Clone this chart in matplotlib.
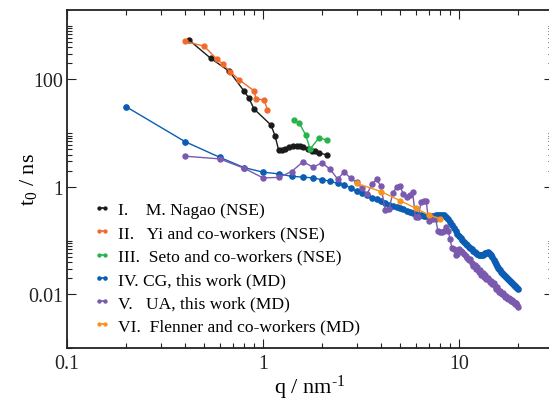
import matplotlib
matplotlib.use('Agg')
import matplotlib.pyplot as plt
from matplotlib.ticker import FixedLocator, NullFormatter, LogLocator

plt.rcParams['font.family'] = ['Liberation Serif', 'DejaVu Serif']
plt.rcParams['mathtext.fontset'] = 'custom'
plt.rcParams['mathtext.rm'] = 'Liberation Serif'
plt.rcParams['mathtext.it'] = 'Liberation Serif:italic'

# ---- data ----
q_nagao = [0.419, 0.541, 0.673, 0.80, 0.848, 0.90, 1.098, 1.151, 1.20, 1.246, 1.295,
           1.357, 1.428, 1.486, 1.545, 1.606, 1.69, 1.773, 1.84, 1.937, 2.11]
t_nagao = [543, 248, 142, 61, 44.7, 28.2, 14.2, 9.0, 4.94, 4.94, 5.16,
           5.48, 5.72, 5.87, 5.79, 5.48, 5.09, 4.73, 4.61, 4.29, 3.94]

q_yi = [0.40, 0.502, 0.58, 0.623, 0.679, 0.757, 0.903, 0.921, 1.015, 1.052]
t_yi = [514, 415, 241, 194, 140, 98, 61, 43.4, 41.5, 27.4]

q_seto = [1.44, 1.53, 1.65, 1.74, 1.93, 2.11]
t_seto = [17.9, 15.5, 9.3, 5.09, 8.16, 7.49]

q_cg = [0.2, 0.4, 0.6, 0.8, 1.0, 1.2, 1.4, 1.6, 1.8, 2.0,
        2.2, 2.4, 2.6, 2.8, 3.0, 3.2, 3.4, 3.6, 3.8, 4.0,
        4.2, 4.4, 4.6, 4.8, 5.0, 5.2, 5.4, 5.6, 5.8, 6.0,
        6.2, 6.4, 6.6, 6.8, 7.0, 7.2, 7.4, 7.6, 7.8, 8.0,
        8.2, 8.4, 8.6, 8.8, 9.0, 9.2, 9.4, 9.6, 9.8, 10.0,
        10.2, 10.4, 10.6, 10.8, 11.0, 11.2, 11.4, 11.6, 11.8, 12.0,
        12.2, 12.4, 12.6, 12.8, 13.0, 13.2, 13.4, 13.6, 13.8, 14.0,
        14.2, 14.4, 14.6, 14.8, 15.0, 15.2, 15.4, 15.6, 15.8, 16.0,
        16.2, 16.4, 16.6, 16.8, 17.0, 17.2, 17.4, 17.6, 17.8, 18.0,
        18.2, 18.4, 18.6, 18.8, 19.0, 19.2, 19.4, 19.6, 19.8, 20.0]
t_cg = [31.2, 6.96, 3.57, 2.29, 1.88, 1.75, 1.57, 1.52, 1.47, 1.36,
        1.28, 1.16, 1.09, 0.97, 0.825, 0.773, 0.70, 0.632, 0.585, 0.549,
        0.493, 0.466, 0.443, 0.425, 0.402, 0.381, 0.362, 0.346, 0.328, 0.315,
        0.304, 0.295, 0.289, 0.285, 0.285, 0.289, 0.292, 0.297, 0.301, 0.301,
        0.301, 0.295, 0.277, 0.249, 0.223, 0.196, 0.173, 0.152, 0.134, 0.120,
        0.110, 0.102, 0.0948, 0.0881, 0.0816, 0.0765, 0.0724, 0.0688, 0.0653, 0.0618,
        0.0592, 0.0567, 0.0548, 0.0536, 0.0532, 0.0539, 0.0555, 0.0579, 0.0597, 0.0604,
        0.0592, 0.0567, 0.0532, 0.0488, 0.0438, 0.0394, 0.0361, 0.0335, 0.0314, 0.0296,
        0.0280, 0.0265, 0.0251, 0.0239, 0.0228, 0.0217, 0.0207, 0.0199, 0.0190, 0.0182,
        0.0175, 0.0168, 0.0162, 0.0155, 0.0150, 0.0145, 0.0140, 0.0135, 0.0130, 0.0127]

q_ua = [0.4, 0.6, 0.8, 1.0, 1.2, 1.4, 1.6, 1.8, 2.0,
        2.2, 2.4, 2.6, 2.8, 3.0, 3.2, 3.4, 3.6, 3.8, 4.0,
        4.2, 4.4, 4.6, 4.8, 5.0, 5.2, 5.4, 5.6, 5.8, 6.0,
        6.2, 6.4, 6.6, 6.8, 7.0, 7.2, 7.4, 7.6, 7.8, 8.0,
        8.2, 8.4, 8.6, 8.8, 9.0, 9.2, 9.4, 9.6, 9.8, 10.0,
        10.2, 10.4, 10.6, 10.8, 11.0, 11.2, 11.4, 11.6, 11.8, 12.0,
        12.2, 12.4, 12.6, 12.8, 13.0, 13.2, 13.4, 13.6, 13.8, 14.0,
        14.2, 14.4, 14.6, 14.8, 15.0, 15.2, 15.4, 15.6, 15.8, 16.0,
        16.2, 16.4, 16.6, 16.8, 17.0, 17.2, 17.4, 17.6, 17.8, 18.0,
        18.2, 18.4, 18.6, 18.8, 19.0, 19.2, 19.4, 19.6, 19.8, 20.0]
t_ua = [3.73, 3.32, 2.23, 1.47, 1.50, 1.93, 2.94, 2.33, 2.80,
        2.13, 1.41, 1.88, 1.45, 1.21, 0.946, 0.741, 1.14, 1.38, 1.02,
        0.373, 0.390, 0.773, 0.987, 1.02, 0.741, 0.643, 0.710, 0.797, 0.271,
        0.277, 0.519, 0.549, 0.556, 0.228, 0.277, 0.254, 0.254, 0.154, 0.144,
        0.146, 0.154, 0.178, 0.152, 0.108, 0.0733, 0.0702, 0.0543, 0.0567, 0.0702,
        0.0645, 0.0610, 0.0567, 0.0514, 0.0478, 0.0426, 0.0457, 0.0386, 0.0343, 0.0354,
        0.0298, 0.0325, 0.0259, 0.0286, 0.0231, 0.0251, 0.0209, 0.0226, 0.0194, 0.0203,
        0.0186, 0.0171, 0.0178, 0.0157, 0.0164, 0.0144, 0.0127, 0.0135, 0.0121, 0.0110,
        0.0116, 0.0104, 0.0102, 0.0107, 0.00950, 0.00899, 0.00938, 0.00843, 0.00824, 0.00861,
        0.00807, 0.00757, 0.00791, 0.00716, 0.00725, 0.00680, 0.00652, 0.00680, 0.00624, 0.00578]

q_flenner = [3.0, 4.0, 5.0, 6.0, 7.0, 8.0]
t_flenner = [1.17, 0.818, 0.556, 0.402, 0.301, 0.254]

labels = ["I.    M. Nagao (NSE)",
          "II.   Yi and co-workers (NSE)",
          "III.  Seto and co-workers (NSE)",
          "IV. CG, this work (MD)",
          "V.   UA, this work (MD)",
          "VI.  Flenner and co-workers (MD)"]

colors = ['#1a1a1a', '#f26a2a', '#27b34b', '#0a5db3', '#7a5aae', '#f7941d']

# ---- figure ----
W, H = 549, 402
fig = plt.figure(figsize=(W / 100, H / 100), dpi=100)
ax = fig.add_axes([67 / W, 1 - 349 / H, (552.5 - 67) / W, (349 - 10.6) / H])

series = [(q_nagao, t_nagao, 3.5), (q_yi, t_yi, 3.5), (q_seto, t_seto, 3.5),
          (q_cg, t_cg, 3.8), (q_ua, t_ua, 3.6), (q_flenner, t_flenner, 3.5)]
handles = []
for (q, t, ms), c, lab in zip(series, colors, labels):
    h, = ax.plot(q, t, '-o', color=c, lw=1.0, ms=ms, mec=c, mfc=c, label=lab)
    handles.append(h)

ax.set_xscale('log')
ax.set_yscale('log')
ax.set_xlim(0.1, 30)
ax.set_ylim(0.001, 2000)

ax.yaxis.set_major_locator(FixedLocator([0.01, 1, 100]))
ax.yaxis.set_minor_locator(LogLocator(base=100, subs=[2, 3, 4, 5, 6, 7, 8, 9, 10], numticks=20))
ax.yaxis.set_minor_formatter(NullFormatter())
ax.set_yticklabels(['0.01', '1', '100'])
ax.xaxis.set_major_locator(FixedLocator([0.1, 1, 10]))
ax.set_xticklabels(['0.1', '1', '10'])
ax.xaxis.set_minor_locator(LogLocator(base=10, subs=range(2, 10), numticks=50))
ax.xaxis.set_minor_formatter(NullFormatter())

ax.tick_params(which='both', direction='in', top=True, right=True, width=0.8,
               labelsize=14.4, colors='#222222')
ax.tick_params(which='major', length=6.5)
ax.tick_params(axis='y', which='major', pad=3)
ax.tick_params(axis='x', which='major', pad=4)
ax.tick_params(which='minor', length=3.6)
for s in ax.spines.values():
    s.set_linewidth(1.3)
    s.set_color('#222222')

ax.set_xlabel('q / nm$^{\\mathrm{\u2010}1}$', fontsize=16, labelpad=0)
ax.set_ylabel(r'$\mathrm{t_0}$ / ns', fontsize=16, labelpad=-8)

leg = ax.legend(handles=handles, loc='upper left', bbox_to_anchor=(94 / W, 1 - 203 / H),
                bbox_transform=fig.transFigure, frameon=False, fontsize=12.6,
                numpoints=2, handlelength=0.95, handletextpad=0.45, labelspacing=0.4,
                markerscale=0.6, borderpad=0, borderaxespad=0)
for lh in leg.legend_handles:
    lh.set_linewidth(1.2)

fig.savefig('out.png', dpi=100)
